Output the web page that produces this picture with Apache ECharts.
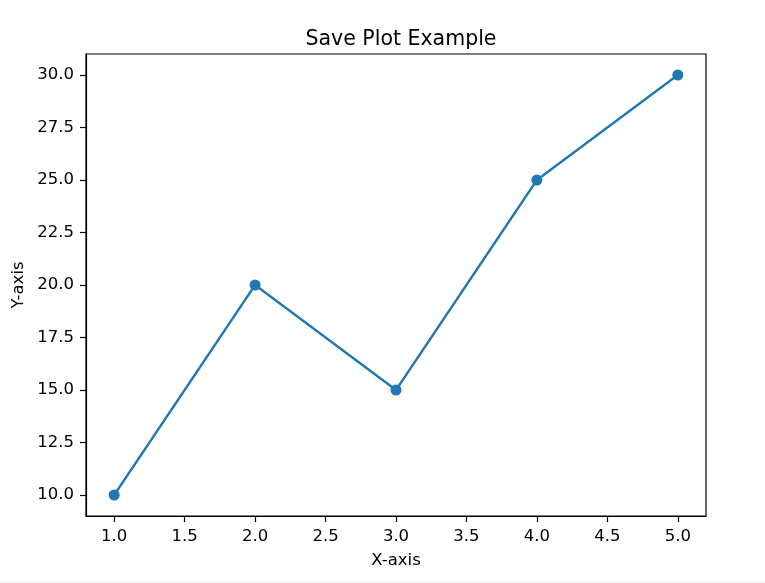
<!DOCTYPE html>
<html>
<head>
<meta charset="utf-8">
<script src="https://cdn.jsdelivr.net/npm/echarts@6/dist/echarts.min.js"></script>
<style>
html,body{margin:0;padding:0;background:#fff;}
#chart{width:765px;height:583px;}
</style>
</head>
<body>
<div id="chart"></div>
<script>
const titleText = 'Save Plot Example';
const xLabel = 'X-axis';
const yLabel = 'Y-axis';
const xValues = [1, 2, 3, 4, 5];
const yValues = [10, 20, 15, 25, 30];
const xTicks = [1.0, 1.5, 2.0, 2.5, 3.0, 3.5, 4.0, 4.5, 5.0];
const yTicks = [10.0, 12.5, 15.0, 17.5, 20.0, 22.5, 25.0, 27.5, 30.0];

const font = 'DejaVu Sans';
const fs = 16.5;
const chart = echarts.init(document.getElementById('chart'), null, {renderer: 'canvas'});
const axisCommon = {
  axisLine: {show: true, onZero: false, lineStyle: {color: '#000', width: 1.2}},
  axisTick: {show: true, inside: false, length: 6, lineStyle: {color: '#000', width: 1.2}},
  splitLine: {show: false},
  axisLabel: {color: '#000', fontFamily: font, fontSize: fs, formatter: v => v.toFixed(1)}
};
chart.setOption({
  animation: false,
  backgroundColor: '#fff',
  title: {
    text: titleText, left: 396, top: 24, textAlign: 'center',
    textStyle: {fontFamily: font, fontSize: 20.5, fontWeight: 'normal', color: '#000'}
  },
  grid: {left: 86, right: 59, top: 54, bottom: 67, show: true, borderColor: '#000', borderWidth: 1.2, backgroundColor: 'transparent'},
  xAxis: Object.assign({}, axisCommon, {
    type: 'value', min: 0.8, max: 5.2,
    axisTick: Object.assign({}, axisCommon.axisTick, {customValues: xTicks}),
    axisLabel: Object.assign({}, axisCommon.axisLabel, {customValues: xTicks, margin: 12})
  }),
  yAxis: Object.assign({}, axisCommon, {
    type: 'value', min: 9, max: 31,
    axisTick: Object.assign({}, axisCommon.axisTick, {customValues: yTicks}),
    axisLabel: Object.assign({}, axisCommon.axisLabel, {customValues: yTicks, margin: 12})
  }),
  graphic: [
    {type: 'text', x: 396, y: 552, style: {text: xLabel, fontFamily: font, fontSize: fs, fill: '#000', align: 'center', verticalAlign: 'top'}},
    {type: 'text', x: 10, y: 285, rotation: Math.PI / 2, style: {text: yLabel, fontFamily: font, fontSize: fs, fill: '#000', align: 'center', verticalAlign: 'top'}},
    {type: 'rect', shape: {x: 0, y: 582, width: 765, height: 1}, style: {fill: '#eeeeee'}, silent: true}
  ],
  series: [{
    type: 'line',
    data: xValues.map((x, i) => [x, yValues[i]]),
    symbol: 'circle', symbolSize: 11,
    lineStyle: {color: '#1f77b4', width: 2.3},
    itemStyle: {color: '#1f77b4'}
  }]
});
</script>
</body>
</html>
